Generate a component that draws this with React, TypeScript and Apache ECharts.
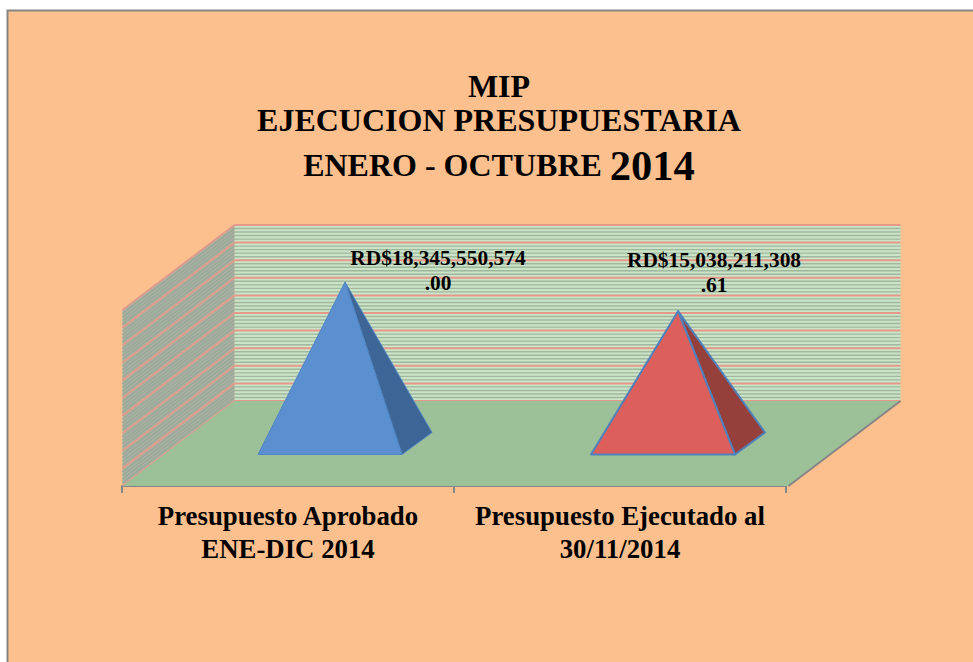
import React, { useEffect, useRef } from "react";
import * as echarts from "echarts";

const categories = ["Presupuesto Aprobado\nENE-DIC 2014", "Presupuesto Ejecutado al\n30/11/2014"];
const budgetValues = [18345550574.0, 15038211308.61];
const valueLabels = ["RD$18,345,550,574\n.00", "RD$15,038,211,308\n.61"];
const labelOffsets = [[93, -37], [36, -64]];
const faceColors = ["#5b8fd0", "#dc5f5c"];
const sideColors = ["#3d6596", "#96403c"];
const edgeColors = ["#4f86c6", "#4f81bd"];
const edgeWidths = [1, 2];
const majorTicks = [0, 2e9, 4e9, 6e9, 8e9, 10e9, 12e9, 14e9, 16e9, 18e9, 20e9];
const minorSteps = [0.2, 0.4, 0.6, 0.8];
const FONT = "'Liberation Serif'";

const depth = [56, -42.5]; // half depth of the 3D box, from the middle plane to the back wall
const baseHalf = 72;
const baseDepth = [15, -11];

function renderBox(_: any, api: any) {
  const band = api.size([1, 0])[0];
  const c0 = api.coord([0, 0]);
  const xL = c0[0] - band / 2;
  const xR = xL + band * 2;
  const y0 = c0[1];
  const yTop = api.coord([0, 20e9])[1];
  const [dx, dy] = depth;
  const children: any[] = [];
  const poly = (points: number[][], fill: string) => children.push({ type: "polygon", shape: { points }, style: { fill } });
  const line = (a: number[], b: number[], stroke: string, lineWidth: number) =>
    children.push({ type: "line", shape: { x1: a[0], y1: a[1], x2: b[0], y2: b[1] }, style: { stroke, lineWidth } });

  // back wall and side wall
  poly([[xL + dx, yTop + dy], [xR + dx, yTop + dy], [xR + dx, y0 + dy], [xL + dx, y0 + dy]], "#cbe4c8");
  poly([[xL - dx, yTop - dy], [xL + dx, yTop + dy], [xL + dx, y0 + dy], [xL - dx, y0 - dy]], "#a7b1a3");

  const all: { v: number; major: boolean }[] = [];
  majorTicks.forEach((t, i) => {
    all.push({ v: t, major: true });
    if (i < majorTicks.length - 1) minorSteps.forEach((s) => all.push({ v: t + s * 2e9, major: false }));
  });
  all.filter((t) => !t.major).forEach((t) => {
    const y = api.coord([0, t.v])[1];
    line([xL + dx, y + dy], [xR + dx, y + dy], "#9fb79d", 1.4);
    line([xL - dx, y - dy], [xL + dx, y + dy], "#9aa897", 1.2);
  });
  all.filter((t) => t.major).forEach((t) => {
    const y = api.coord([0, t.v])[1];
    line([xL + dx, y + dy], [xR + dx, y + dy], "#e5988a", 2);
    line([xL - dx, y - dy], [xL + dx, y + dy], "#df9b8c", 2);
  });

  // floor
  poly([[xL - dx, y0 - dy], [xL + dx, y0 + dy], [xR + dx, y0 + dy], [xR - dx, y0 - dy]], "#9cc097");
  line([xR - dx, y0 - dy], [xR + dx, y0 + dy], "#868686", 2);
  return { type: "group", children };
}

function renderPyramid(params: any, api: any) {
  const i = params.dataIndex;
  const base = api.coord([api.value(0), 0]);
  const apex = api.coord([api.value(0), api.value(1)]);
  const [bx, by] = baseDepth;
  const fl = [base[0] - baseHalf - bx, base[1] - by];
  const fr = [base[0] + baseHalf - bx, base[1] - by];
  const br = [base[0] + baseHalf + bx, base[1] + by];
  const edge = { stroke: edgeColors[i], lineWidth: edgeWidths[i], lineJoin: "round" };
  return {
    type: "group",
    children: [
      { type: "polygon", shape: { points: [apex, fr, br] }, style: { fill: sideColors[i], ...edge } },
      { type: "polygon", shape: { points: [apex, fl, fr] }, style: { fill: faceColors[i], ...edge } },
      {
        type: "text",
        z2: 10,
        style: {
          text: valueLabels[i],
          x: apex[0] + labelOffsets[i][0],
          y: apex[1] + labelOffsets[i][1],
          align: "center",
          verticalAlign: "top",
          font: `bold 21.4px ${FONT}`,
          lineHeight: 25,
          fill: "#000",
        },
      },
    ],
  };
}

export default function App() {
  const ref = useRef<HTMLDivElement>(null);
  useEffect(() => {
    const chart = echarts.init(ref.current!, undefined, { renderer: "svg" });
    chart.setOption({
      animation: false,
      backgroundColor: "#ffffff",
      title: {
        left: 494,
        top: 64,
        textAlign: "center",
        text: "{a|MIP}\n{a|EJECUCION PRESUPUESTARIA}\n{c|ENERO - OCTUBRE }{b|2014}",
        textStyle: {
          rich: {
            a: { fontFamily: FONT, fontWeight: "bold", fontSize: 32, lineHeight: 34, color: "#000" },
            c: { fontFamily: FONT, fontWeight: "bold", fontSize: 32, lineHeight: 56, color: "#000" },
            b: { fontFamily: FONT, fontWeight: "bold", fontSize: 42.5, lineHeight: 56, color: "#000" },
          },
        },
      },
      graphic: [
        {
          type: "rect",
          silent: true,
          z: -10,
          shape: { x: 7.5, y: 10.5, width: 1000, height: 700 },
          style: { fill: "#fcc08f", stroke: "#868686", lineWidth: 2 },
        },
      ],
      grid: [
        { left: 178.5, width: 666, top: 267.5, height: 176 },
        { left: 122, width: 664, top: 310, height: 176 },
      ],
      xAxis: [
        { gridIndex: 0, type: "category", data: categories, show: false },
        {
          gridIndex: 1,
          type: "category",
          data: categories,
          position: "bottom",
          axisLine: { show: true, lineStyle: { color: "#868686", width: 2 } },
          axisTick: { show: true, length: 7, lineStyle: { color: "#868686", width: 2 } },
          axisLabel: {
            interval: 0,
            margin: 13,
            fontFamily: FONT,
            fontWeight: "bold",
            fontSize: 26.8,
            lineHeight: 33,
            color: "#000",
          },
        },
      ],
      yAxis: [
        { gridIndex: 0, type: "value", min: 0, max: 20e9, interval: 2e9, show: false },
        { gridIndex: 1, type: "value", min: 0, max: 20e9, interval: 2e9, show: false },
      ],
      series: [
        {
          type: "custom",
          xAxisIndex: 0,
          yAxisIndex: 0,
          z: 1,
          silent: true,
          clip: false,
          renderItem: renderBox,
          data: [[0, 0]],
          encode: { x: 0, y: 1 },
        },
        {
          type: "custom",
          xAxisIndex: 0,
          yAxisIndex: 0,
          z: 3,
          silent: true,
          clip: false,
          renderItem: renderPyramid,
          data: budgetValues.map((v, i) => [i, v]),
          encode: { x: 0, y: 1 },
        },
      ],
    });
    return () => chart.dispose();
  }, []);
  return <div ref={ref} style={{ position: "absolute", left: 0, top: 0, width: 973, height: 662 }} />;
}
